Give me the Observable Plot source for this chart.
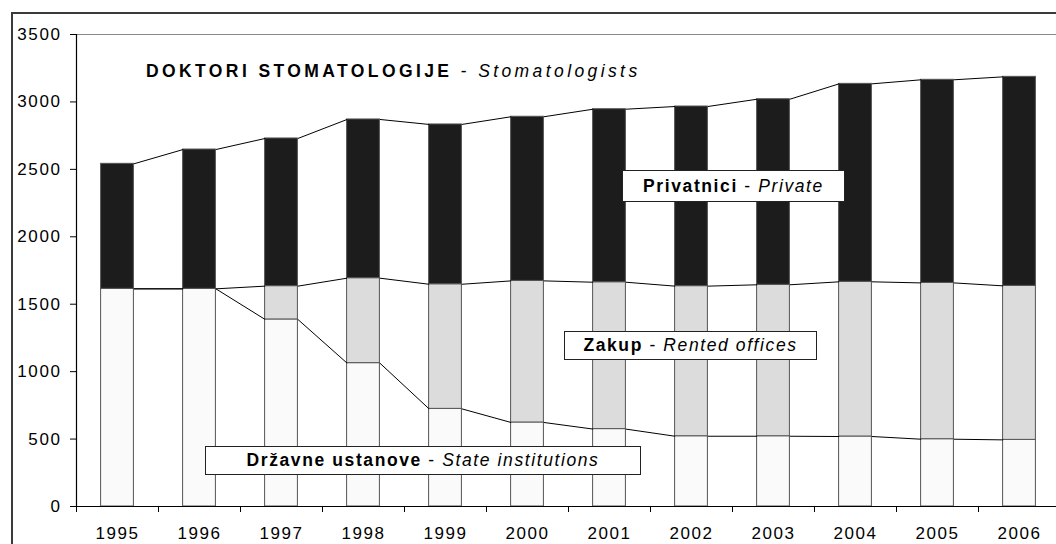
<!DOCTYPE html>
<html>
<head>
<meta charset="utf-8">
<script src="https://cdn.jsdelivr.net/npm/d3@7"></script>
<script src="https://cdn.jsdelivr.net/npm/@observablehq/plot@0.6"></script>
<style>
  html, body { margin: 0; padding: 0; background: #fff; overflow: hidden; }
  #wrap { position: relative; width: 1056px; height: 544px; font-family: "Liberation Sans", Arial, sans-serif; overflow: hidden; }
  #frame { position: absolute; left: 11px; top: 12px; width: 1100px; height: 600px; border-left: 2px solid #3a3a3a; border-top: 2px solid #3a3a3a; box-sizing: border-box; pointer-events: none; }
  #chart { position: absolute; left: 0; top: 0; }
  .lbl { position: absolute; background: #fff; border: 1px solid #222; box-sizing: border-box; display: flex; align-items: center; justify-content: center; font-size: 17.5px; letter-spacing: 1.6px; color: #000; white-space: nowrap; }
  .title { position: absolute; left: 146px; top: 61px; font-size: 17.5px; letter-spacing: 3.4px; white-space: nowrap; color: #000; }
  b { font-weight: bold; }
  i { font-style: italic; }
</style>
</head>
<body>
<div id="wrap">
  <div id="frame"></div>
  <div id="chart"></div>
  <div class="title"><b>DOKTORI STOMATOLOGIJE</b> - <i>Stomatologists</i></div>
  <div class="lbl" style="left:622px;top:170px;width:223px;height:32px;"><b>Privatnici</b>&nbsp;-&nbsp;<i>Private</i></div>
  <div class="lbl" style="left:564px;top:331px;width:253px;height:29px;"><b>Zakup</b>&nbsp;-&nbsp;<i>Rented offices</i></div>
  <div class="lbl" style="left:205px;top:446px;width:436px;height:29px;"><b>Državne ustanove</b>&nbsp;-&nbsp;<i>State institutions</i></div>
</div>
<script>
const years   = [1995, 1996, 1997, 1998, 1999, 2000, 2001, 2002, 2003, 2004, 2005, 2006];
const state   = [1614, 1614, 1387, 1063, 724, 623, 574, 521, 521, 519, 499, 494];
const rented  = [0, 0, 247, 630, 924, 1050, 1089, 1113, 1123, 1147, 1159, 1142];
const privat  = [927, 1033, 1095, 1177, 1185, 1217, 1283, 1332, 1376, 1468, 1506, 1550];
const seriesNames = ["Državne ustanove", "Zakup", "Privatnici"];
const seriesColors = ["#fafafa", "#dcdcdc", "#1c1c1c"];
const yTicks = [0, 500, 1000, 1500, 2000, 2500, 3000, 3500];

const half = 0.2;
const segs = [];
const tops = [[], [], []];
years.forEach((yr, i) => {
  const vals = [state[i], rented[i], privat[i]];
  let base = 0;
  vals.forEach((v, k) => {
    if (v > 0) segs.push({year: yr, series: seriesNames[k], y1: base, y2: base + v});
    base += v;
    tops[k].push(base);
  });
});
const links = [];
for (let k = 0; k < 3; k++) {
  for (let i = 0; i < years.length - 1; i++) {
    links.push({x1: years[i] + half, x2: years[i + 1] - half, y1: tops[k][i], y2: tops[k][i + 1]});
  }
}
const boundaries = years.map(y => y - 0.5).concat([years[years.length - 1] + 0.5]);

const chart = Plot.plot({
  width: 1056,
  height: 544,
  marginLeft: 76,
  marginRight: -4,
  marginTop: 34,
  marginBottom: 38,
  style: {fontFamily: "'Liberation Sans', Arial, sans-serif", fontSize: "17px", letterSpacing: "1.6px", color: "#000", background: "transparent"},
  x: {domain: [years[0] - 0.5, years[years.length - 1] + 0.5], range: [76, 1060]},
  y: {domain: [0, 3500], range: [506, 34]},
  color: {domain: seriesNames, range: seriesColors},
  marks: [
    Plot.ruleY([3500], {stroke: "#8a8a8a", strokeWidth: 1.2}),
    Plot.rect(segs, {x1: d => d.year - half, x2: d => d.year + half, y1: "y1", y2: "y2", fill: "series", stroke: "#555", strokeWidth: 1}),
    Plot.link(links, {x1: "x1", x2: "x2", y1: "y1", y2: "y2", stroke: "#000", strokeWidth: 1}),
    Plot.ruleX([years[0] - 0.5], {stroke: "#000", strokeWidth: 1.2}),
    Plot.ruleY([0], {stroke: "#000", strokeWidth: 1.2}),
    Plot.axisY({ticks: yTicks, tickSize: 6, tickPadding: 9, tickFormat: d => String(d), label: null, anchor: "left", stroke: "#000"}),
    Plot.axisX({ticks: boundaries, tickSize: 6, tickFormat: () => "", label: null, anchor: "bottom", stroke: "#000"}),
    Plot.axisX({ticks: years, tickSize: 0, tickPadding: 20, tickFormat: d => String(d), label: null, anchor: "bottom"})
  ]
});
document.getElementById("chart").appendChild(chart);
</script>
</body>
</html>
